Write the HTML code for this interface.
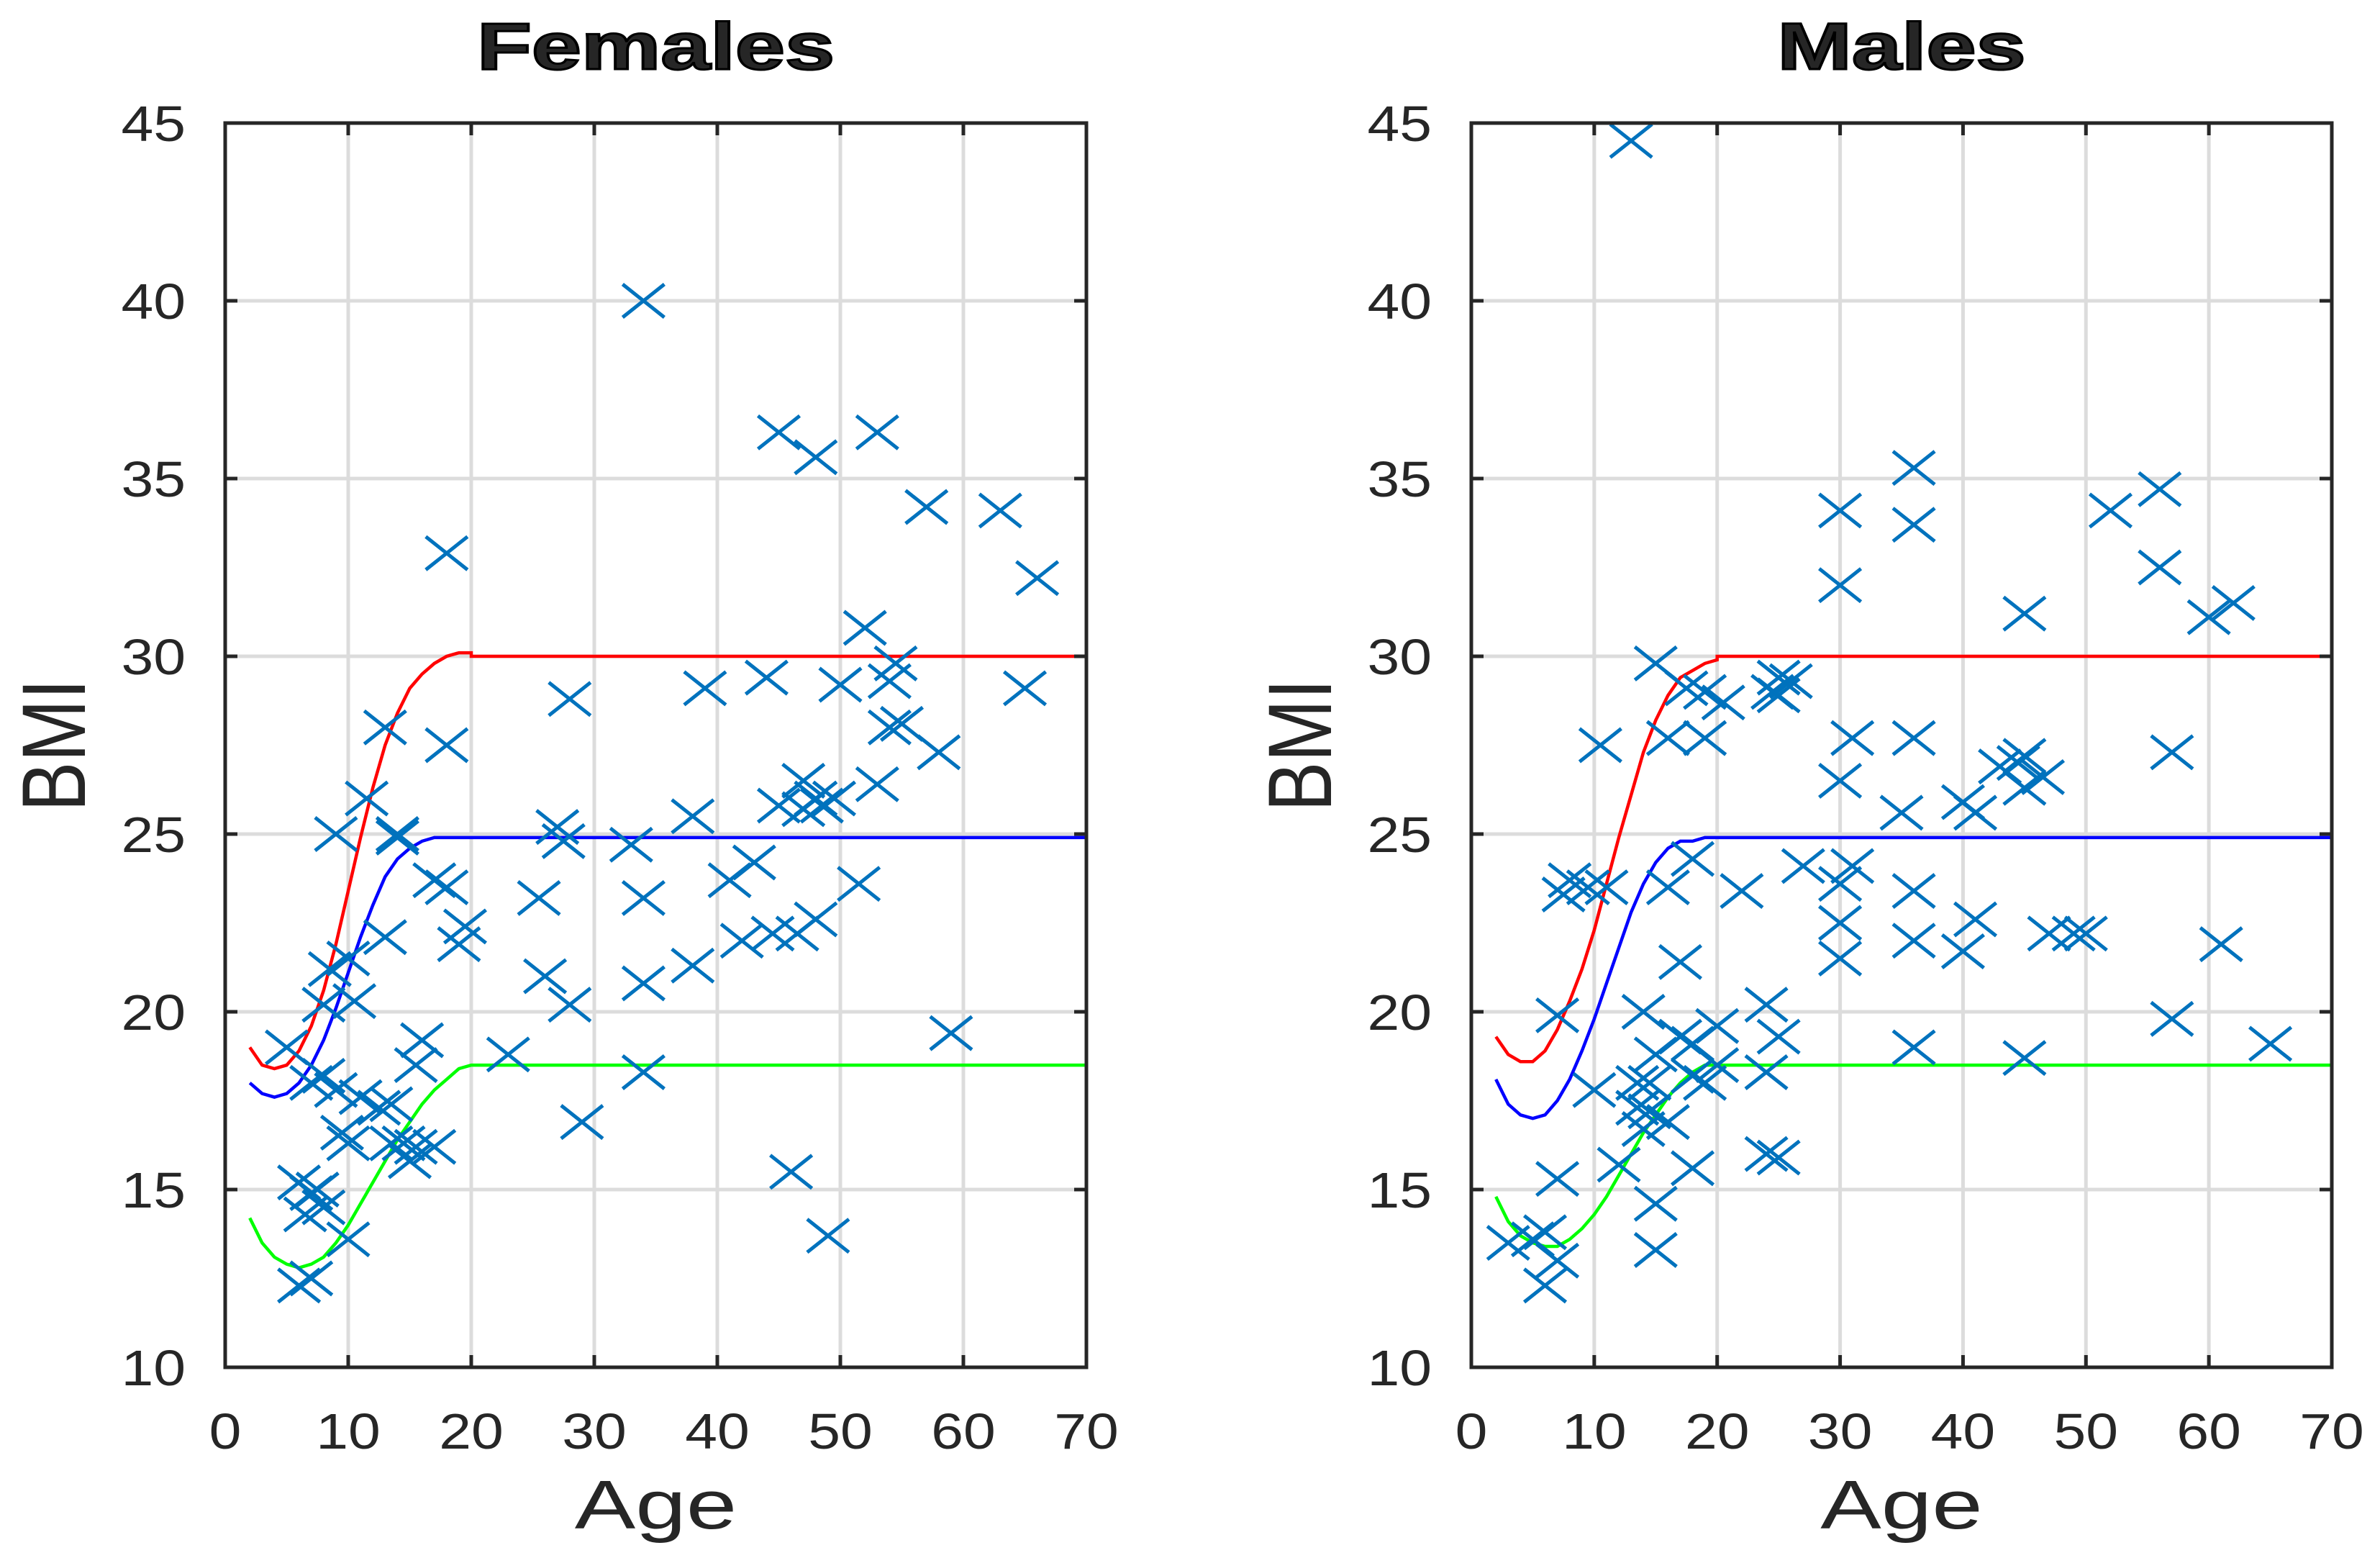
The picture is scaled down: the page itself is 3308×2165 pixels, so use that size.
<!DOCTYPE html>
<html><head><meta charset="utf-8"><style>
html,body{margin:0;padding:0;background:#fff}
svg{display:block}
text{font-family:"Liberation Sans",sans-serif;fill:#262626}
</style></head><body>
<svg id="chart" width="3308" height="2165" viewBox="0 0 3308 2165" xmlns="http://www.w3.org/2000/svg"></svg>
<script>
const xTicks=[0,10,20,30,40,50,60,70];
const yTicks=[10,15,20,25,30,35,40,45];
const curveAges=[2,3,4,5,6,7,8,9,10,11,12,13,14,15,16,17,18,19,20,20,70];
const femRed=[19.0,18.5,18.4,18.5,18.9,19.6,20.6,21.9,23.4,24.9,26.3,27.5,28.4,29.1,29.5,29.8,30,30.1,30.1,30,30];
const femBlue=[18.0,17.7,17.6,17.7,18.0,18.5,19.2,20.1,21.1,22.1,23,23.8,24.3,24.6,24.8,24.9,24.9,24.9,24.9,24.9,24.9];
const femGreen=[14.2,13.5,13.1,12.9,12.8,12.9,13.1,13.5,14.0,14.6,15.2,15.8,16.4,16.9,17.4,17.8,18.1,18.4,18.5,18.5,18.5];
const maleRed=[19.3,18.8,18.6,18.6,18.9,19.5,20.3,21.2,22.3,23.6,24.9,26.1,27.3,28.2,28.9,29.4,29.6,29.8,29.9,30,30];
const maleBlue=[18.1,17.4,17.1,17.0,17.1,17.5,18.1,18.9,19.8,20.8,21.8,22.8,23.6,24.2,24.6,24.8,24.8,24.9,24.9,24.9,24.9];
const maleGreen=[14.8,14.1,13.7,13.5,13.4,13.4,13.6,13.9,14.3,14.8,15.4,16.0,16.6,17.1,17.6,18.0,18.3,18.5,18.5,18.5,18.5];
const femAge=[5,6,7,6,6.5,7,7.5,8,7,8,9,8,8.5,9,9.5,10,10,10.5,10,11,11.5,12.5,13,13,13.5,13.5,14,14,14.5,15,15.5,15.5,16,17,17,18,18,18,19,19.5,23,25.5,26,27,27.5,28,28,29,33,34,34,34,34,38,38,39,41,42,43,44,45,44.5,45,46,46.5,47,47,48,48,48,48.5,49,49.5,50,51.5,52,53,53,54,54,54.5,55,57,58,59,63,65,66];
const femBMI=[19,12.3,12.5,15.2,14.3,14.9,15,14.5,18,18.2,17.8,20.2,21.2,25,16.6,16.3,13.6,20.3,21.5,17.6,26,17.3,28,22.1,17.4,16.3,25,24.9,16.3,15.8,16.2,18.5,19.2,16.2,23.7,23.5,27.5,32.9,21.9,22.4,18.8,23.2,21,25.2,24.8,20.2,28.8,16.9,24.7,40,23.2,20.8,18.3,21.3,25.5,29.1,23.7,22,24.2,29.4,36.3,22.2,25.8,15.5,22.2,25.7,26.5,26,22.6,35.6,25.8,13.7,26,29.2,23.6,30.8,36.3,26.4,28,29.3,29.8,28.1,34.2,27.3,19.4,34.1,29.1,32.2];
const maleAge=[3,5,6,6,7,7,7,7.5,8,9.5,10,10.5,11,12,13,13.5,13.5,14,14,14.5,14.5,15,15,15,15,16,16,16,17,17,17.5,18,18,18,18,19,19,19,20,20,20.5,22,24,24,24,25,24.5,25,25,25,26,27,30,30,30,30,30,30,31,31,35,36,36,36,36,36,36,40,40,41,41,43,44.5,45,45,45,45,46.5,47,49,50,52,56,56,57,57,60,61,62,65];
const maleBMI=[13.5,13.6,12.3,13.8,13,15.3,19.9,23.3,23.7,23.5,17.8,27.5,23.5,15.7,44.5,18,17.3,20,16.7,17.2,18,14.6,13.3,18.8,29.8,23.5,27.7,16.9,19.3,21.4,29.1,15.6,24.3,19.1,18.2,29,18,27.7,19.6,18.5,28.7,23.4,20.2,18.3,16,15.9,29,28.9,29.4,19.3,29.3,24.1,34.1,32,26.5,23.6,22.5,21.5,27.7,24.1,25.6,35.3,33.7,27.7,23.4,22,19,21.7,25.9,25.6,22.6,26.9,27,26.3,27.2,31.2,18.7,26.6,22.2,22.2,22.2,34.1,34.7,32.5,27.3,19.8,31.1,21.9,31.5,19.1];

const NS='http://www.w3.org/2000/svg';
const svg=document.getElementById('chart');
function mk(tag,attrs,parent){const e=document.createElementNS(NS,tag);for(const k in attrs)e.setAttribute(k,attrs[k]);(parent||svg).appendChild(e);return e;}

function panel(key,title,L,R,ages,bmis,red,blue,green){
  const T=171,B=1900;
  const sx=v=>L+(v-0)/(70-0)*(R-L);
  const sy=v=>B-(v-10)/(45-10)*(B-T);
  const g=mk('g',{});
  
  
  xTicks.forEach(t=>{
    if(t>0&&t<70){const l=mk('line',{x1:sx(t),x2:sx(t),y1:T,y2:B,stroke:'#dcdcdc','stroke-width':5},g);
    }
  });
  yTicks.forEach(t=>{
    if(t>10&&t<45){const l=mk('line',{x1:L,x2:R,y1:sy(t),y2:sy(t),stroke:'#dcdcdc','stroke-width':5},g);
    }
  });
  const series=[[red,'#ff0000','upper-curve'],[blue,'#0000ff','middle-curve'],[green,'#00ff00','lower-curve']];
  series.forEach(s=>{
    const d=curveAges.map((a,i)=>(i?'L':'M')+sx(a).toFixed(1)+' '+sy(s[0][i]).toFixed(1)).join(' ');
    const p=mk('path',{d:d,fill:'none',stroke:s[1],'stroke-width':4.5},g);
    
    
  });
  ages.forEach((a,i)=>{
    const x=sx(a),y=sy(bmis[i]),hw=29,hh=23;
    const m=mk('path',{d:`M${x-hw} ${y-hh}L${x+hw} ${y+hh}M${x-hw} ${y+hh}L${x+hw} ${y-hh}`,stroke:'#0072bd','stroke-width':5,fill:'none'},g);
    
    
  });
  const box=mk('rect',{x:L,y:T,width:R-L,height:B-T,fill:'none',stroke:'#262626','stroke-width':5},g);
  
  
  xTicks.forEach(t=>{
    mk('line',{x1:sx(t),x2:sx(t),y1:B,y2:B-17,stroke:'#262626','stroke-width':5},g);
    mk('line',{x1:sx(t),x2:sx(t),y1:T,y2:T+17,stroke:'#262626','stroke-width':5},g);
    const tx=mk('text',{x:0,y:0,'font-size':70,'text-anchor':'middle',transform:`translate(${sx(t)} 2013) scale(1.15 1)`},g);
    tx.textContent=t;
    
    
  });
  yTicks.forEach(t=>{
    mk('line',{x1:L,x2:L+17,y1:sy(t),y2:sy(t),stroke:'#262626','stroke-width':5},g);
    mk('line',{x1:R,x2:R-17,y1:sy(t),y2:sy(t),stroke:'#262626','stroke-width':5},g);
    const tx=mk('text',{x:0,y:0,'font-size':70,'text-anchor':'end',transform:`translate(${L-55} ${sy(t)+25}) scale(1.15 1)`},g);
    tx.textContent=t;
    
    
  });
  const tt=mk('text',{x:0,y:0,'font-size':92,'font-weight':'bold','text-anchor':'middle',fill:'#000',stroke:'#000','stroke-width':3,transform:`translate(${(L+R)/2} 96) scale(1.35 1)`},g);
  tt.textContent=title;
  
  
  const xl=mk('text',{x:0,y:0,'font-size':96,'text-anchor':'middle',transform:`translate(${(L+R)/2} 2124) scale(1.32 1)`},g);
  xl.textContent='Age';
  
  
  const yx=L-195,yy=(T+B)/2;
  const yl=mk('text',{x:0,y:0,'font-size':125,'text-anchor':'middle',transform:`translate(${yx} ${yy}) rotate(-90) scale(0.83 1)`},g);
  yl.textContent='BMI';
  
  
}
panel('females','Females',313,1510,femAge,femBMI,femRed,femBlue,femGreen);
panel('males','Males',2045,3241,maleAge,maleBMI,maleRed,maleBlue,maleGreen);
</script>
</body></html>
